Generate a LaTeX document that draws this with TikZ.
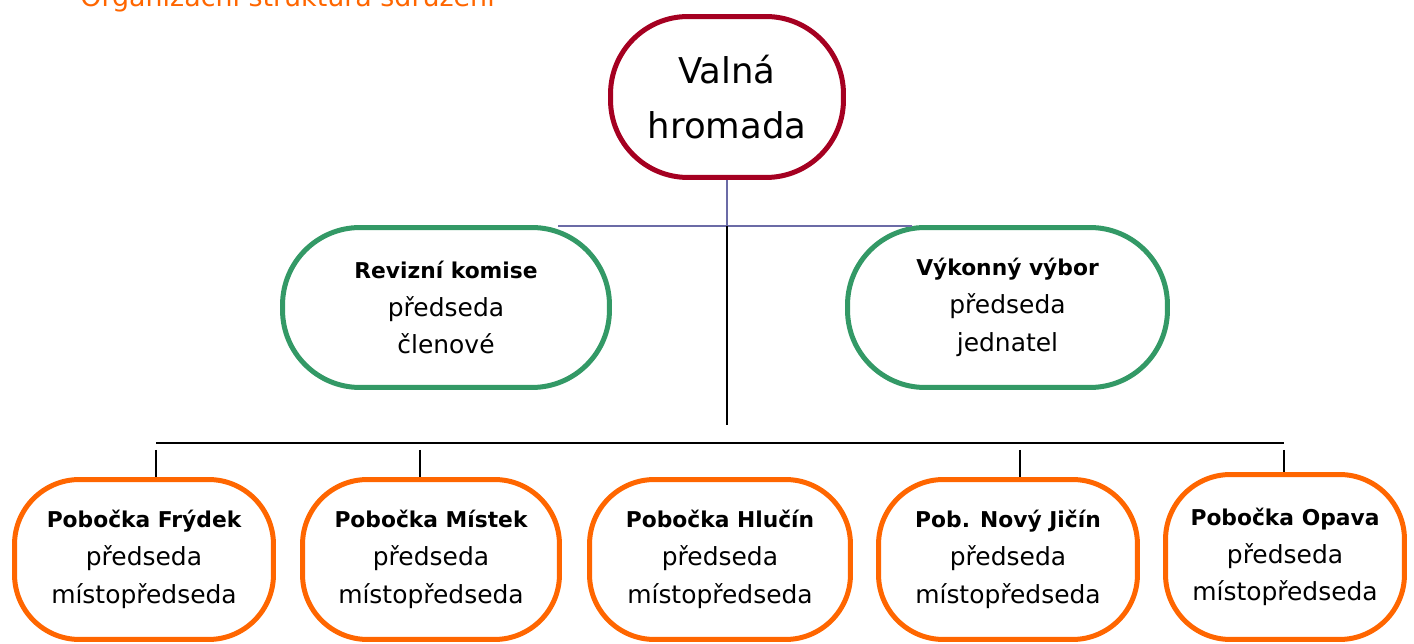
\documentclass[tikz,border=0pt]{standalone}
\usepackage{fontspec}
\setmainfont{DejaVu Sans}
\definecolor{vhred}{HTML}{A50021}
\definecolor{kgreen}{HTML}{339966}
\definecolor{porange}{HTML}{FF6600}
\definecolor{lpurple}{HTML}{6B6BA6}
\newcommand{\hd}[1]{{\fontsize{12.4}{21.5}\selectfont\bfseries #1}}
\begin{document}
\begin{tikzpicture}[x=0.02cm,y=-0.02cm,
  box/.style={draw, line width=0.1cm, fill=white, align=center, inner sep=0pt,
    font=\fontsize{14.2}{21.5}\selectfont},
  topbox/.style={box, draw=vhred, rounded corners=1.55cm, minimum width=4.66cm, minimum height=3.22cm,
    font=\fontsize{20.2}{31}\selectfont},
  midbox/.style={box, draw=kgreen, rounded corners=1.55cm, minimum height=3.2cm},
  branch/.style={box, draw=porange, rounded corners=1.3cm, minimum height=3.2cm},
  conn/.style={line width=1.1pt, draw=black},
  pconn/.style={line width=1.1pt, draw=lpurple}]
\useasboundingbox (0,0) rectangle (1414,644);
\node[anchor=base west, text=porange, font=\fontsize{15.3}{18}\selectfont, inner sep=0pt] (title) at (80,7) {Organizační struktura sdružení};

\node[topbox] (vh) at (727,97) {Valná\\hromada};
\node[midbox, minimum width=6.54cm] (rk) at (446,307.5) {\hd{Revizní komise}\\předseda\\členové};
\node[midbox, minimum width=6.4cm] (vv) at (1007.5,307.5) {\hd{Výkonný výbor}\\předseda\\jednatel};

\node[branch, minimum width=5.18cm] (b1) at (144,559.5) {\hd{Pobočka Frýdek}\\předseda\\místopředseda};
\node[branch, minimum width=5.14cm] (b2) at (431,559.5) {\hd{Pobočka Místek}\\předseda\\místopředseda};
\node[branch, minimum width=5.22cm] (b3) at (720,559.5) {\hd{Pobočka Hlučín}\\předseda\\místopředseda};
\node[branch, minimum width=5.18cm] (b4) at (1008,559.5) {\hd{Pob. Nový Jičín}\\předseda\\místopředseda};
\node[branch, minimum width=4.78cm, minimum height=3.3cm] (b5) at (1285,557) {\hd{Pobočka Opava}\\předseda\\místopředseda};

\coordinate (j) at (727,226);
\coordinate (hl) at (558,226);
\coordinate (hr) at (912,226);
\coordinate (vend) at (727,425);
\coordinate (bl) at (156,443);
\coordinate (br) at (1284,443);
\coordinate (t1) at (156,450);
\coordinate (t2) at (420,450);
\coordinate (t4) at (1020,450);
\coordinate (t5) at (1284,450);

\draw[pconn] (vh.south) -- (j);
\draw[pconn] (hl) -- (hr);
\draw[conn] (j) -- (vend);
\draw[conn, line width=1.6pt] (bl) -- (br);
\draw[conn] (t1) -- (t1 |- b1.north);
\draw[conn] (t2) -- (t2 |- b2.north);
\draw[conn] (t4) -- (t4 |- b4.north);
\draw[conn] (t5) -- (t5 |- b5.north);
\end{tikzpicture}
\end{document}
